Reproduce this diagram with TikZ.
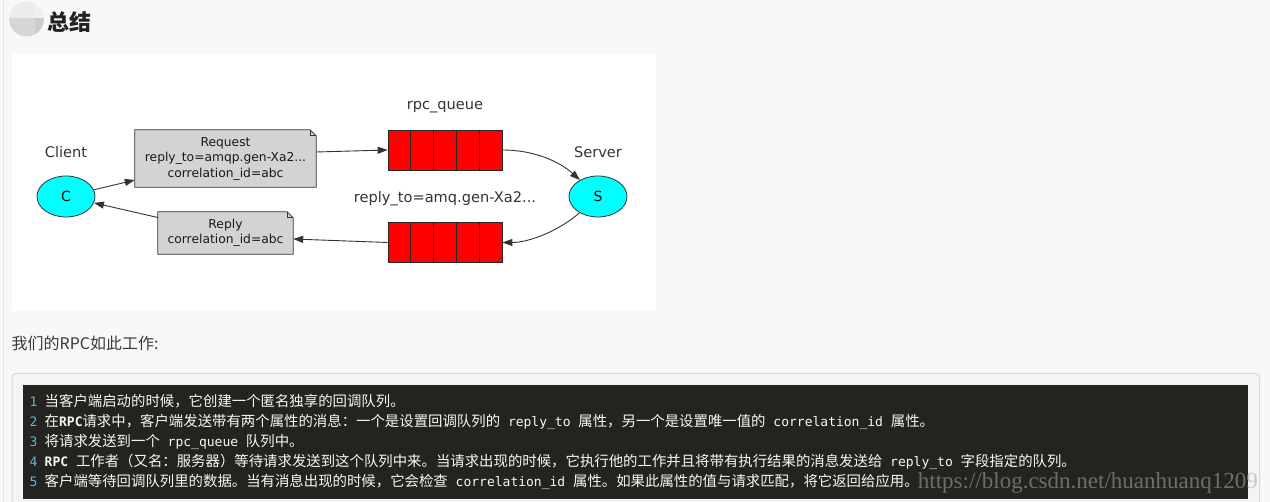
\documentclass[tikz,border=0pt]{standalone}
\usepackage{fontspec}
\setmainfont{DejaVu Sans}
\newfontfamily\cjk{Noto Sans CJK SC}
\newfontfamily\codefont{DejaVu Sans Mono}
\newfontfamily\markfont{Liberation Serif}
\usepackage{tikz}
\usetikzlibrary{arrows.meta, positioning, shapes.geometric, calc, backgrounds}
\definecolor{pageBg}{HTML}{F8F8F8}
\definecolor{leftRule}{HTML}{E4E4E4}
\definecolor{codeOuter}{HTML}{F4F4F4}
\definecolor{codeBorder}{HTML}{D8D8D8}
\definecolor{codeBg}{HTML}{23241F}
\definecolor{codeText}{HTML}{F8F8F2}
\definecolor{codeNum}{HTML}{62B6DC}
\definecolor{markGray}{HTML}{A6A6A6}
\definecolor{rpcCyan}{HTML}{00FFFF}
\definecolor{rpcRed}{HTML}{FF0000}
\definecolor{rpcGray}{HTML}{D3D3D3}
\definecolor{rpcLine}{HTML}{333333}
\definecolor{rpcText}{HTML}{333333}
\definecolor{titleText}{HTML}{222222}
\definecolor{bodyText}{HTML}{3A3A3A}
\definecolor{iconA}{HTML}{ECECEC}
\definecolor{iconB}{HTML}{F1F1F1}
\definecolor{iconC}{HTML}{D6D6D6}
\definecolor{iconD}{HTML}{CDCDCD}
\tikzset{
  rpc-label/.style={
    inner sep=0pt, text height=10.6pt, text depth=0pt, text=rpcText,
    font=\fontsize{14.6}{16}\selectfont
  },
  rpc-agent/.style={
    ellipse, draw=rpcLine, fill=rpcCyan, line width=0.8pt,
    minimum width=58pt, minimum height=41pt, inner sep=0pt,
    font=\fontsize{14}{16}\selectfont
  },
  rpc-note/.style={
    rectangle, inner sep=0pt, align=center, text=black!90,
    font=\fontsize{12.3}{15.5}\selectfont
  },
  rpc-queue/.style={
    rectangle, draw=black!85, fill=rpcRed, line width=0.8pt,
    minimum width=114pt, minimum height=40pt, inner sep=0pt
  },
  rpc-flow/.style={-{Triangle[length=10pt,width=7pt]}, draw=rpcLine, line width=0.9pt},
  code-num/.style={
    anchor=base west, inner sep=0pt, text=codeNum,
    font=\codefont\fontsize{13}{16}\selectfont
  },
  code-line/.style={
    anchor=base west, inner sep=0pt, text=codeText,
    font=\cjk\fontsize{14.4}{16}\selectfont
  },
}
\newcommand{\tok}[1]{{\codefont\fontsize{13}{16}\selectfont\ #1\ }}
\newcommand{\kw}[1]{{\codefont\bfseries\fontsize{13}{16}\selectfont #1}}

\begin{document}
\begin{tikzpicture}[x=1pt, y=-1pt]
  \useasboundingbox (0,0) rectangle (1270,502);

  % page, picture frame and code panel
  \begin{scope}[on background layer]
    \fill[pageBg] (0,0) rectangle (1270,502);
    \draw[leftRule, line width=1pt] (3,0) -- (3,502);
    \fill[white] (12,54) rectangle (656,311);
    \filldraw[draw=codeBorder, fill=codeOuter, line width=1pt, rounded corners=4pt]
      (12,373.5) rectangle (1259.5,512);
    \fill[codeBg] (23,385) rectangle (1248,499.5);
  \end{scope}

  % heading icon
  \begin{scope}
    \clip (26.5,19) circle (17.5pt);
    \fill[iconA] (8,0) rectangle (35,18);
    \fill[iconB] (35,0) rectangle (46,18);
    \fill[iconC] (8,18) rectangle (35,38);
    \fill[iconD] (35,18) rectangle (46,38);
  \end{scope}
  \node[anchor=base west, inner sep=0pt, text=titleText,
        font=\cjk\bfseries\fontsize{22}{24}\selectfont] (title) at (47.5,31) {总结};

  % diagram
  \node[rpc-agent] (C) at (66,196.5) {C};
  \node[rpc-agent] (S) at (598,196.5) {S};
  \node[rpc-label, above=17.5pt of C] (client) {Client};
  \node[rpc-label, above=17.5pt of S] (server) {Server};
  \node[rpc-queue] (topq) at (445,150) {};
  \node[rpc-queue] (botq) at (445,242.5) {};
  \node[rpc-label, above=20pt of topq] (qname) {rpc\_queue};
  \node[rpc-label, above=19.5pt of botq] (rname) {reply\_to=amq.gen-Xa2...};
  \node[rpc-note, minimum width=181pt, minimum height=57pt] (req) at (225.5,158.5)
    {Request\\reply\_to=amqp.gen-Xa2...\\correlation\_id=abc};
  \node[rpc-note, minimum width=135pt, minimum height=42pt] (rep) at (225.5,233)
    {Reply\\correlation\_id=abc};

  \begin{scope}[on background layer]
    \foreach \n in {req,rep} {
      \filldraw[draw=rpcLine, fill=rpcGray, line width=0.8pt]
        (\n.south west) -- (\n.north west) -- ([xshift=-6pt]\n.north east)
        -- ([yshift=-6pt]\n.north east) -- (\n.south east) -- cycle;
      \draw[rpcLine, line width=0.8pt]
        ([xshift=-6pt]\n.north east) |- ([yshift=-6pt]\n.north east);
    }
  \end{scope}

  \foreach \q in {topq,botq}
    \foreach \k in {1,...,4}
      \draw[black!85, line width=0.8pt]
        ($(\q.north west)!\k/5!(\q.north east)$) -- ($(\q.south west)!\k/5!(\q.south east)$);

  \draw[rpc-flow] (C) -- (req);
  \draw[rpc-flow] ([yshift=6.5pt]req.east) -- (topq.west);
  \draw[rpc-flow] (topq.east) .. controls (535,150) and (560,162) .. (S);
  \draw[rpc-flow] (S) .. controls (560,230) and (530,242.5) .. (botq.east);
  \draw[rpc-flow] (botq.west) -- ([yshift=-6pt]rep.east);
  \draw[rpc-flow] (rep) -- (C);

  % text below the picture
  \node[anchor=base west, inner sep=0pt, text=bodyText,
        font=\cjk\fontsize{16}{18}\selectfont] (intro) at (11.5,350) {我们的RPC如此工作:};

  \foreach \i in {1,...,5}
    \node[code-num] (num\i) at (29.5,387+20*\i) {\i};
  \node[code-line] (line1) at (44.5,407) {当客户端启动的时候，它创建一个匿名独享的回调队列。};
  \node[code-line] (line2) at (44.5,427) {在\kw{RPC}请求中，客户端发送带有两个属性的消息：一个是设置回调队列的\tok{reply\_to}属性，另一个是设置唯一值的\tok{correlation\_id}属性。};
  \node[code-line] (line3) at (44.5,447) {将请求发送到一个\tok{rpc\_queue}队列中。};
  \node[code-line] (line4) at (44.5,467) {\kw{RPC\ }工作者（又名：服务器）等待请求发送到这个队列中来。当请求出现的时候，它执行他的工作并且将带有执行结果的消息发送给\tok{reply\_to}字段指定的队列。};
  \node[code-line] (line5) at (44.5,487) {客户端等待回调队列里的数据。当有消息出现的时候，它会检查\tok{correlation\_id}属性。如果此属性的值与请求匹配，将它返回给应用。};

  \node[anchor=base east, inner sep=0pt, text=markGray, text opacity=0.57,
        font=\markfont\fontsize{23}{26}\selectfont] (mark) at (1258,488.5)
    {https://blog.csdn.net/huanhuanq1209};
\end{tikzpicture}
\end{document}
